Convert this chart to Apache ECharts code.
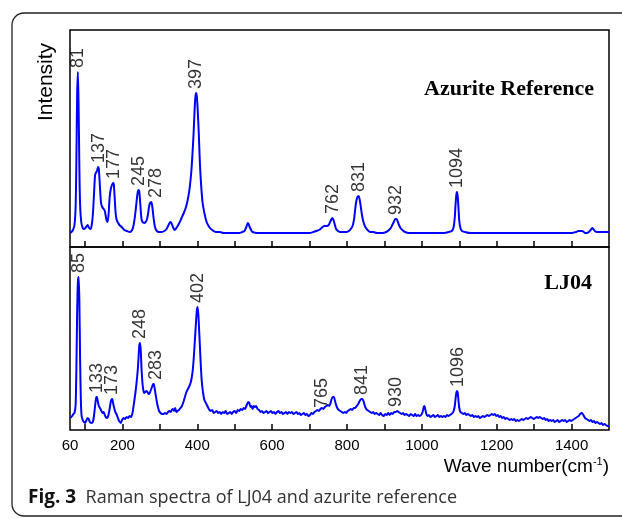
<!DOCTYPE html>
<html>
<head>
<meta charset="utf-8">
<script src="https://cdn.jsdelivr.net/npm/echarts@6/dist/echarts.min.js"></script>
<style>
  html, body { margin: 0; padding: 0; background: #fff; }
  #chart { width: 622px; height: 519px; }
</style>
</head>
<body>
<div id="chart"></div>
<script>
// azurite reference spectrum [wave number, intensity]
var azuriteRef = [
  [60,14],[64,15],[68,17],[72,22],[75,40],[77,85],[79,150],[81,175],[83,140],[85,80],[87,42],[90,25],[94,19],[98,18],
  [103,20],[107,22],[111,19],[115,18],[118,22],[121,32],[124,52],[127,72],[129,74],[132,76],[135,80],[137,78],[140,60],
  [143,44],[146,40],[150,38],[153,36],[157,28],[160,25],[163,32],[166,50],[169,58],[172,62],[175,64],[177,63],[180,45],
  [183,30],[187,25],[192,22],[198,20],[205,17],[212,16],[220,15],[226,17],[230,22],[234,32],[238,46],[241,55],[243,57],
  [245,56],[248,42],[251,28],[254,25],[258,24],[262,25],[265,27],[268,32],[271,40],[274,44],[277,45],[280,40],[283,30],
  [287,20],[292,16],[298,15],[305,15],[312,16],[318,18],[322,21],[326,24],[329,25],[332,23],[336,19],[340,17],[346,20],
  [352,24],[358,29],[364,34],[370,40],[376,50],[380,60],[384,75],[387,92],[390,112],[393,138],[395,150],[397,154],
  [399,150],[401,138],[404,114],[407,84],[410,64],[414,45],[419,34],[425,25],[432,20],[440,17],[450,15],[460,15],
  [470,14],[485,14],[500,14],[512,14],[520,15],[526,16],[530,19],[533,22],[535,24],[537,23],[540,20],[544,17],[548,15],
  [560,14],[580,14],[600,14],[620,14],[640,14],[660,14],[680,14],[700,14],[710,15],[718,16],[725,17],[732,19],[739,21],
  [746,21],[751,22],[755,25],[759,28],[761,29],[764,27],[767,23],[771,18],[776,16],[782,15],[790,15],[798,15],[805,16],
  [810,18],[815,21],[819,28],[822,38],[825,46],[828,50],[831,51],[834,47],[837,40],[840,32],[844,25],[849,20],[855,17],
  [862,15],[870,15],[880,14],[895,14],[905,15],[912,17],[917,19],[921,22],[925,25],[929,28],[932,28],[935,26],[939,22],
  [943,19],[948,17],[955,15],[965,14],[980,14],[1000,14],[1020,14],[1040,14],[1060,14],[1072,15],[1080,16],[1085,20],
  [1088,30],[1090,42],[1092,52],[1094,55],[1096,50],[1098,38],[1100,26],[1103,19],[1107,16],[1115,15],[1130,14],
  [1160,14],[1200,14],[1240,14],[1280,14],[1320,14],[1360,14],[1400,14],[1412,15],[1418,16],[1424,16],[1428,16],
  [1433,15],[1437,14],[1441,14],[1446,15],[1451,17],[1455,19],[1458,18],[1462,16],[1468,15],[1480,15],[1500,15]
];

// LJ04 sample spectrum [wave number, intensity]
var lj04 = [
  [60,12],[63,13],[66,14],[69,16],[72,17],[75,25],[77,60],[79,115],[81,148],[83,153],[85,130],[87,70],[89,30],[91,14],
  [94,10],[97,8],[100,7],[103,9],[107,12],[110,11],[113,8],[117,7],[121,8],[124,14],[127,24],[130,33],[132,33],[134,29],
  [137,24],[140,22],[144,19],[147,17],[150,18],[154,14],[158,12],[161,13],[164,17],[167,24],[170,30],[173,31],[175,27],
  [178,22],[181,18],[184,16],[187,13],[190,10],[193,8],[196,7],[199,10],[203,12],[207,11],[211,13],[215,12],[219,14],
  [223,13],[227,17],[231,27],[235,38],[238,48],[241,60],[243,72],[245,84],[247,87],[249,80],[251,62],[253,50],[255,42],
  [258,37],[261,38],[264,39],[267,38],[270,36],[273,37],[276,40],[279,43],[282,46],[284,46],[286,42],[289,35],[292,28],
  [295,23],[298,19],[302,17],[306,16],[310,16],[314,17],[318,16],[322,18],[326,19],[329,18],[332,20],[335,21],[338,19],
  [341,22],[344,18],[347,19],[351,20],[355,22],[359,24],[363,28],[367,33],[371,38],[375,41],[379,44],[382,47],[385,52],
  [388,60],[391,74],[394,92],[397,110],[399,120],[401,123],[403,115],[405,100],[407,84],[409,68],[411,54],[413,45],
  [416,36],[419,30],[423,27],[427,24],[431,21],[435,19],[440,20],[444,17],[448,18],[452,19],[456,17],[460,18],[464,16],
  [468,18],[472,17],[476,19],[480,16],[484,17],[488,18],[492,16],[496,18],[500,19],[504,17],[508,20],[512,19],[516,21],
  [520,20],[524,22],[528,21],[532,25],[536,28],[539,27],[542,23],[545,24],[548,21],[551,24],[554,23],[557,24],[561,21],
  [565,20],[569,18],[573,19],[577,17],[581,18],[585,19],[589,17],[593,18],[597,19],[601,17],[605,18],[609,16],[613,18],
  [617,19],[621,17],[625,18],[629,16],[633,17],[637,18],[641,16],[645,18],[649,17],[653,18],[657,16],[661,17],[665,18],
  [669,16],[673,17],[677,15],[681,16],[685,17],[689,15],[693,16],[697,14],[701,15],[705,17],[709,16],[713,18],[717,19],
  [721,20],[725,19],[729,21],[733,22],[737,21],[741,23],[745,24],[749,25],[753,24],[756,27],[759,31],[762,33],[765,33],
  [768,29],[771,25],[774,22],[778,20],[782,19],[786,18],[790,17],[794,18],[798,17],[802,19],[806,20],[810,21],[814,20],
  [818,22],[822,22],[826,24],[830,26],[834,29],[838,31],[841,31],[844,29],[847,25],[850,22],[854,20],[858,19],[862,18],
  [866,17],[870,18],[874,16],[878,17],[882,16],[886,15],[890,17],[894,15],[898,14],[902,16],[906,15],[910,17],[914,15],
  [918,17],[922,16],[926,18],[930,18],[934,19],[938,18],[942,17],[946,16],[950,17],[954,15],[958,16],[962,15],[966,14],
  [970,16],[974,15],[978,14],[982,16],[986,14],[990,15],[994,14],[998,15],[1002,18],[1005,23],[1007,24],[1009,21],
  [1012,16],[1015,14],[1019,15],[1023,13],[1027,14],[1031,15],[1035,13],[1039,14],[1043,15],[1047,13],[1051,14],
  [1055,13],[1059,14],[1063,13],[1067,15],[1071,14],[1075,15],[1079,16],[1082,17],[1085,19],[1088,24],[1090,31],
  [1092,37],[1094,39],[1096,37],[1098,29],[1100,22],[1103,18],[1107,17],[1111,16],[1115,17],[1119,15],[1123,16],
  [1127,15],[1131,14],[1135,15],[1139,13],[1143,14],[1147,13],[1151,14],[1155,12],[1159,13],[1163,14],[1167,13],
  [1171,14],[1175,15],[1179,14],[1183,15],[1187,16],[1191,15],[1195,16],[1199,14],[1203,15],[1207,13],[1211,14],
  [1215,12],[1219,13],[1223,11],[1227,12],[1231,11],[1235,10],[1239,11],[1243,10],[1247,11],[1251,9],[1255,10],
  [1259,9],[1263,10],[1267,11],[1271,10],[1275,11],[1279,12],[1283,11],[1287,12],[1291,13],[1295,12],[1299,11],
  [1303,12],[1307,13],[1311,12],[1315,13],[1319,12],[1323,11],[1327,12],[1331,10],[1335,11],[1339,9],[1343,10],
  [1347,9],[1351,10],[1355,8],[1359,9],[1363,10],[1367,8],[1371,9],[1375,10],[1379,9],[1383,10],[1387,8],[1391,9],
  [1395,10],[1399,9],[1403,10],[1407,11],[1411,12],[1415,13],[1419,14],[1423,16],[1427,17],[1430,16],[1433,14],
  [1436,12],[1440,11],[1444,10],[1448,9],[1452,10],[1456,8],[1460,9],[1464,7],[1468,8],[1472,7],[1476,6],[1480,7],
  [1484,5],[1488,6],[1492,5],[1496,4],[1500,4]
];

// labelled peaks
var refPeaks = [81, 137, 177, 245, 278, 397, 762, 831, 932, 1094];
var ljPeaks = [85, 133, 173, 248, 283, 402, 765, 841, 930, 1096];

var xTicks = [100,200,300,400,500,600,700,800,900,1000,1100,1200,1300,1400];
var xLabels = [60,200,400,600,800,1000,1200,1400];

// peak height taken from the spectrum near the labelled position
function peakPoints(spec, peaks) {
  return peaks.map(function (p) {
    var h = 0;
    spec.forEach(function (d) { if (Math.abs(d[0] - p) <= 4 && d[1] > h) h = d[1]; });
    return { value: [p, h], name: String(p) };
  });
}

var labelStyle = {
  show: true,
  position: 'top',
  distance: 4,
  rotate: 90,
  align: 'left',
  verticalAlign: 'middle',
  formatter: '{b}',
  fontFamily: 'Liberation Sans, Arial, sans-serif',
  fontSize: 18,
  color: '#000'
};

var refLabels = peakPoints(azuriteRef, refPeaks);
refLabels[4].label = { offset: [0, 4] };

var ljLabels = peakPoints(lj04, ljPeaks);
ljLabels[4].label = { offset: [0, 3] };
ljLabels[6].label = { offset: [-7, -12], distance: -4 };

var chart = echarts.init(document.getElementById('chart'), null, { renderer: 'canvas' });

var option = {
  backgroundColor: '#fff',
  animation: false,
  grid: [
    { left: 70, right: 13, top: 30, height: 217, show: true, borderColor: '#000', borderWidth: 1.5 },
    { left: 70, right: 13, top: 247, height: 183, show: true, borderColor: '#000', borderWidth: 1.5 }
  ],
  xAxis: [0, 1].map(function (i) {
    return {
      type: 'value', gridIndex: i, min: 60, max: 1500,
      axisLine: { show: false },
      splitLine: { show: false },
      axisTick: { show: true, inside: true, length: 6, customValues: xTicks, lineStyle: { color: '#000', width: 1.5 } },
      axisLabel: {
        show: i === 1, customValues: xLabels, margin: 8,
        formatter: function (v) { return String(v); },
        fontFamily: 'Liberation Sans, Arial, sans-serif', fontSize: 15, color: '#000'
      }
    };
  }),
  yAxis: [
    { type: 'value', gridIndex: 0, min: 0, max: 217, show: false },
    { type: 'value', gridIndex: 1, min: 0, max: 183, show: false }
  ],
  series: [
    {
      type: 'line', xAxisIndex: 0, yAxisIndex: 0, data: azuriteRef, showSymbol: false,
      smooth: 0.3, lineStyle: { color: '#0000ff', width: 2 }, silent: true
    },
    {
      type: 'line', xAxisIndex: 1, yAxisIndex: 1, data: lj04, showSymbol: false,
      smooth: 0.2, lineStyle: { color: '#0000ff', width: 2 }, silent: true
    },
    {
      type: 'scatter', xAxisIndex: 0, yAxisIndex: 0, symbolSize: 0, silent: true,
      data: refLabels, label: labelStyle
    },
    {
      type: 'scatter', xAxisIndex: 1, yAxisIndex: 1, symbolSize: 0, silent: true,
      data: ljLabels, label: labelStyle
    }
  ],
  graphic: [
    {
      type: 'rect', shape: { x: 12, y: 13, width: 640, height: 503, r: 12 },
      style: { fill: 'none', stroke: '#222', lineWidth: 1.3 }, silent: true
    },
    {
      type: 'text', x: 46, y: 82, rotation: Math.PI / 2,
      style: { text: 'Intensity', fill: '#000', font: '21px "Liberation Sans", Arial, sans-serif', align: 'center', verticalAlign: 'middle' }
    },
    {
      type: 'text', x: 594, y: 89,
      style: { text: 'Azurite Reference', fill: '#000', font: 'bold 22px "Liberation Serif", "Times New Roman", serif', align: 'right', verticalAlign: 'middle' }
    },
    {
      type: 'text', x: 592, y: 283,
      style: { text: 'LJ04', fill: '#000', font: 'bold 22px "Liberation Serif", "Times New Roman", serif', align: 'right', verticalAlign: 'middle' }
    },
    {
      type: 'text', x: 609, y: 467,
      style: {
        text: 'Wave number(cm{sup|-1})', fill: '#000',
        font: '19px "Liberation Sans", Arial, sans-serif', align: 'right', verticalAlign: 'middle',
        rich: { sup: { fontSize: 11, fontFamily: 'Liberation Sans, Arial, sans-serif', padding: [0, 0, 11, 0], fill: '#000' } }
      }
    },
    {
      type: 'text', x: 28, y: 498,
      style: {
        text: '{b|Fig. 3}  Raman spectra of LJ04 and azurite reference', fill: '#333',
        font: '18px "Open Sans", "Noto Sans", sans-serif', verticalAlign: 'middle',
        rich: { b: { fontWeight: 'bold', fontSize: 19, fontFamily: 'Open Sans, Noto Sans, sans-serif', fill: '#111' } }
      }
    }
  ]
};

chart.setOption(option);
</script>
</body>
</html>
